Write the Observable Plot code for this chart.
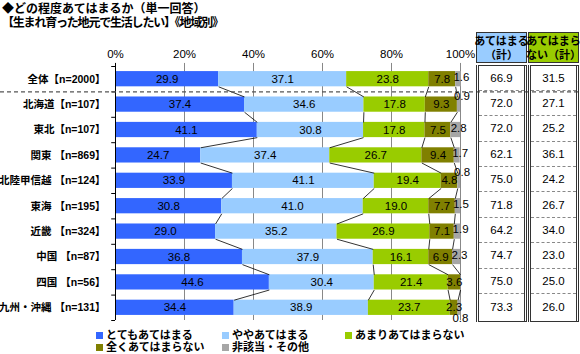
<!DOCTYPE html>
<html><head><meta charset="utf-8">
<script src="https://cdn.jsdelivr.net/npm/d3@7"></script>
<script src="https://cdn.jsdelivr.net/npm/@observablehq/plot@0.6"></script>
<style>
body{margin:0;background:#fff;}
#wrap{position:relative;width:580px;height:354px;overflow:hidden;font-family:"Liberation Sans","Noto Sans CJK JP",sans-serif;color:#000;}
#wrap svg{position:absolute;left:0;top:0;}
.abs{position:absolute;white-space:nowrap;}
.title{font-weight:bold;font-size:12px;line-height:13px;left:2px;}
.lg{font-weight:bold;font-size:11px;line-height:12px;display:flex;align-items:center;}
.lg i{display:inline-block;width:7px;height:7px;margin-right:3px;}
.hdr{box-sizing:border-box;border:1.5px solid #333;font-weight:bold;font-size:11px;line-height:14px;text-align:center;display:flex;align-items:center;justify-content:center;}
.col{box-sizing:border-box;border-left:3px double #333;border-right:3px double #333;border-top:1.5px solid #333;border-bottom:1.5px solid #333;}
.cell{position:absolute;left:0;right:0;font-size:11.5px;text-align:center;display:flex;align-items:center;justify-content:center;border-bottom:1px dashed #888;box-sizing:border-box;}
</style></head>
<body><div id="wrap"></div>
<script>
const categories = ["全体【n=2000】","北海道【n=107】","東北【n=107】","関東 【n=869】","北陸甲信越 【n=124】","東海 【n=195】","近畿 【n=324】","中国 【n=87】","四国 【n=56】","九州・沖縄 【n=131】"];
const seriesNames = ["とてもあてはまる","ややあてはまる","あまりあてはまらない","全くあてはまらない","非該当・その他"];
const seriesColors = ["#3366FF","#99CCFF","#99CC00","#808000","#A6A6A6"];
const totteMo = [29.9,37.4,41.1,24.7,33.9,30.8,29.0,36.8,44.6,34.4];
const yaya    = [37.1,34.6,30.8,37.4,41.1,41.0,35.2,37.9,30.4,38.9];
const amari   = [23.8,17.8,17.8,26.7,19.4,19.0,26.9,16.1,21.4,23.7];
const mattaku = [7.8,9.3,7.5,9.4,4.8,7.7,7.1,6.9,3.6,2.3];
const higaitou= [1.6,0.9,2.8,1.7,0.8,1.5,1.9,2.3,0,0.8];
const atehamaruTotal = ["66.9","72.0","72.0","62.1","75.0","71.8","64.2","74.7","75.0","73.3"];
const atehamaranaiTotal = ["31.5","27.1","25.2","36.1","24.2","26.7","34.0","23.0","25.0","26.0"];
const xTicks = [0,20,40,60,80,100];
const tableHeaders = ["あてはまる<br>（計）","あてはまら<br>ない（計）"];
const tableHeaderColors = ["#99CCFF","#99CC00"];
const titleLine1 = "◆どの程度あてはまるか（単一回答）";
const titleLine2 = "【生まれ育った地元で生活したい】《地域別》";

const series = [totteMo,yaya,amari,mattaku,higaitou];
const segs = [];
categories.forEach((c,i)=>{
  let acc=0;
  series.forEach((s,k)=>{
    const v=s[i];
    segs.push({row:i,cat:c,k,series:seriesNames[k],x1:acc,x2:acc+v,v});
    acc+=v;
  });
});
const links=[];
for(let i=0;i<categories.length-1;i++){
  for(let k=1;k<=4;k++){
    const a=series.slice(0,k).reduce((s,arr)=>s+arr[i],0);
    const b=series.slice(0,k).reduce((s,arr)=>s+arr[i+1],0);
    links.push({x1:a,y1:i+0.3,x2:b,y2:i+1-0.3});
  }
}
const boundaries = d3.range(-0.5, categories.length, 1);
const lastRow = categories.length-1;
const mainLabels = segs.filter(d=>d.v>0 && d.k<4);
const smallLabels = segs.filter(d=>d.v>0 && d.k===4);

const chart = Plot.plot({
  width:580,height:354,
  marginLeft:115,marginRight:120,marginTop:66,marginBottom:34,
  style:{fontFamily:'"Liberation Sans","Noto Sans CJK JP",sans-serif',fontSize:"11px",color:"#000",background:"transparent"},
  x:{domain:[0,100]},
  y:{type:"linear",domain:[-0.5,categories.length-0.5],reverse:true,axis:null},
  color:{domain:seriesNames,range:seriesColors},
  marks:[
    Plot.ruleX(xTicks,{x:d=>d,y1:-0.62,y2:categories.length-0.5,stroke:"#888",strokeWidth:1}),
    Plot.rectX(segs.filter(d=>d.v>0),{x1:"x1",x2:"x2",y1:d=>d.row-0.3,y2:d=>d.row+0.3,fill:"series"}),
    Plot.link(links,{x1:"x1",y1:"y1",x2:"x2",y2:"y2",stroke:"#000",strokeWidth:0.8}),
    Plot.ruleX([0],{y1:-0.62,y2:categories.length-0.5,stroke:"#000",strokeWidth:1}),
    Plot.ruleY(boundaries,{y:d=>d,x1:-1.1,x2:0,stroke:"#000",strokeWidth:1}),
    Plot.ruleY([0.5],{y:d=>d,stroke:"#555",strokeWidth:1.3,strokeDasharray:"4,3",insetLeft:-115,insetRight:-120}),
    Plot.axisX({anchor:"top",ticks:xTicks,tickFormat:d=>d+"%",tickSize:0,tickPadding:9,fontSize:11.5,fill:"#000"}),
    Plot.text(mainLabels,{x:d=>(d.x1+d.x2)/2,y:"row",text:d=>d.v.toFixed(1),fill:"#000",fontSize:11.5}),
    Plot.text(smallLabels.filter(d=>d.v>=1),{x:d=>(d.x1+d.x2)/2,y:"row",text:d=>d.v.toFixed(1),fill:"#000",fontSize:11.5,dx:3,dy:-2}),
    Plot.text(smallLabels.filter(d=>d.v<1 && d.row!==lastRow),{x:d=>(d.x1+d.x2)/2,y:"row",text:d=>d.v.toFixed(1),fill:"#000",fontSize:11.5,dx:3,dy:-8}),
    Plot.text(smallLabels.filter(d=>d.v<1 && d.row===lastRow),{x:d=>(d.x1+d.x2)/2,y:"row",text:d=>d.v.toFixed(1),fill:"#000",fontSize:11.5,dx:1,dy:11}),
    Plot.text(categories,{x:0,y:(d,i)=>i,text:d=>d,textAnchor:"end",dx:-10,fontWeight:"bold",fontSize:10.5,fill:"#000"})
  ]
});
const wrap=document.getElementById("wrap");
wrap.appendChild(chart);

function add(html,cls,style){const d=document.createElement("div");d.className="abs "+cls;d.innerHTML=html;Object.assign(d.style,style);wrap.appendChild(d);return d;}
add(titleLine1,"title",{top:"3px"});
add(titleLine2,"title",{top:"17px",letterSpacing:"-1.2px"});

// table
const colLeft=[476,528];
const yS = chart.scale("y");
const rowB = d3.range(categories.length+1).map(i=>yS.apply(i-0.5));
const tableTop=65;
[atehamaruTotal,atehamaranaiTotal].forEach((vals,c)=>{
  add(tableHeaders[c],"hdr",{left:colLeft[c]+"px",top:"32px",width:"51px",height:"31px",background:tableHeaderColors[c]});
  const col=add("","col",{left:colLeft[c]+"px",top:tableTop+"px",width:"51px",height:(rowB[rowB.length-1]+2-tableTop)+"px"});
  vals.forEach((v,i)=>{
    const t=(i===0?tableTop:rowB[i])-tableTop-1.5;
    const b=rowB[i+1]-tableTop-1.5;
    const cell=document.createElement("div");
    cell.className="cell";
    cell.style.top=Math.max(0,t)+"px";
    cell.style.height=(b-Math.max(0,t))+"px";
    if(i===vals.length-1) cell.style.borderBottom="none";
    cell.textContent=v;
    col.appendChild(cell);
  });
});

// legend
const lgPos=[[96,329],[222,329],[345,329],[96,341],[222,341]];
seriesNames.forEach((n,k)=>{
  add(`<i style="background:${seriesColors[k]}"></i>${n}`,"lg",{left:lgPos[k][0]+"px",top:lgPos[k][1]+"px"});
});
</script></body></html>
